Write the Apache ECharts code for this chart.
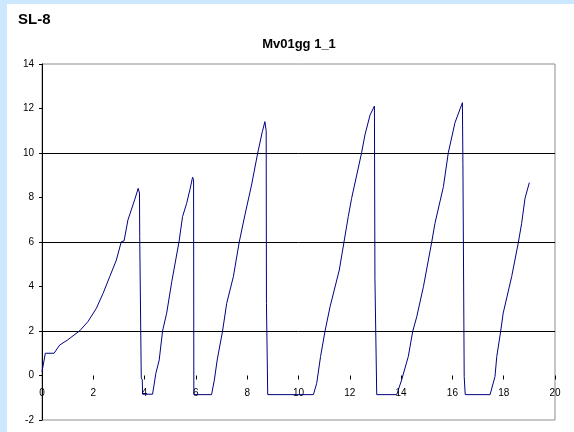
<!DOCTYPE html>
<html>
<head>
<meta charset="utf-8">
<script src="https://cdn.jsdelivr.net/npm/echarts@6/dist/echarts.min.js"></script>
<style>
html,body{margin:0;padding:0;background:#cce8ff;}
#paper{position:absolute;left:7px;top:4px;width:567px;height:428px;background:#ffffff;}
#main{position:absolute;left:0;top:0;width:574px;height:432px;}
</style>
</head>
<body>
<div id="paper"></div>
<div id="main"></div>
<script>
var chartTitle = 'Mv01gg 1_1';
var cornerLabel = 'SL-8';
var xTicks = [0, 2, 4, 6, 8, 10, 12, 14, 16, 18, 20];
var yTicks = [-2, 0, 2, 4, 6, 8, 10, 12, 14];
var gridValues = [2, 6, 10];

var xValues = [
  0.00, 0.13, 0.47, 0.69, 1.00, 1.47, 1.79, 2.12, 2.38, 2.64, 2.90, 3.09, 3.20, 3.35, 3.61, 3.75, 3.80, 3.81, 3.86, 3.87, 3.91, 3.92,
  4.31, 4.44, 4.57, 4.70, 4.86, 5.06, 5.34, 5.48, 5.64, 5.77, 5.87, 5.91, 5.92,
  6.61, 6.72, 6.83, 7.04, 7.20, 7.46, 7.69, 7.91, 8.17, 8.41, 8.59, 8.69, 8.74, 8.75, 8.79, 8.80,
  10.58, 10.71, 10.86, 11.03, 11.23, 11.59, 11.77, 11.94, 12.07, 12.27, 12.46, 12.59, 12.79, 12.96, 12.98, 13.04, 13.05,
  13.83, 14.02, 14.28, 14.45, 14.61, 14.87, 15.19, 15.32, 15.65, 15.84, 16.10, 16.39, 16.41, 16.45, 16.46, 16.49, 16.50,
  17.47, 17.57, 17.66, 17.73, 17.88, 17.98, 18.31, 18.57, 18.70, 18.83, 19.00
];
var yValues = [
  0.17, 1.00, 1.00, 1.37, 1.60, 2.01, 2.42, 3.02, 3.69, 4.44, 5.19, 6.01, 6.05, 6.99, 7.89, 8.41, 8.20, 6.24, 6.20, -0.10, -0.20, -0.84,
  -0.84, 0.10, 0.70, 2.00, 2.80, 4.22, 6.00, 7.14, 7.74, 8.37, 8.91, 8.80, -0.86,
  -0.86, -0.20, 0.70, 2.00, 3.24, 4.44, 6.00, 7.21, 8.56, 10.00, 10.96, 11.41, 11.00, 3.24, 3.20, -0.86,
  -0.86, -0.35, 0.85, 1.97, 3.09, 4.74, 5.97, 7.14, 7.96, 9.01, 10.01, 10.81, 11.71, 12.11, 4.37, 4.30, -0.86,
  -0.86, -0.20, 0.85, 1.97, 2.64, 3.99, 5.97, 6.84, 8.49, 10.01, 11.36, 12.26, 9.54, 9.50, -0.05, -0.10, -0.86,
  -0.86, -0.43, -0.05, 0.85, 1.97, 2.80, 4.44, 5.97, 6.84, 7.96, 8.67
];

var seriesData = xValues.map(function (x, i) { return [x, yValues[i]]; });

var gridTop = 64, gridBottom = 12, chartH = 432;
var plotH = chartH - gridTop - gridBottom;
var zeroOffset = -plotH * (0 - yTicks[0]) / (yTicks[yTicks.length - 1] - yTicks[0]);

var chart = echarts.init(document.getElementById('main'), null, {renderer: 'canvas'});
chart.setOption({
  animation: false,
  backgroundColor: 'transparent',
  title: [
    {
      text: cornerLabel,
      left: 13, top: 7,
      textStyle: {fontFamily: 'Liberation Sans, Arial, sans-serif', fontWeight: 'bold', fontSize: 15, color: '#000'}
    },
    {
      text: chartTitle,
      left: 294, top: 33, textAlign: 'center',
      textStyle: {fontFamily: 'Liberation Sans, Arial, sans-serif', fontWeight: 'bold', fontSize: 13, color: '#000'}
    }
  ],
  grid: {
    left: 42, right: 19, top: gridTop, bottom: gridBottom,
    outerBoundsMode: 'none', containLabel: false,
    show: true, borderColor: '#8c8c8c', borderWidth: 1, backgroundColor: 'transparent'
  },
  xAxis: {
    type: 'value',
    position: 'bottom',
    offset: zeroOffset,
    min: xTicks[0], max: xTicks[xTicks.length - 1], interval: 2,
    axisLine: {show: true, onZero: false, lineStyle: {color: 'rgba(0,0,0,0)'}},
    axisTick: {show: true, length: 4, inside: false, lineStyle: {color: '#000'}},
    axisLabel: {
      margin: 13, color: '#000', fontSize: 10,
      fontFamily: 'Liberation Sans, Arial, sans-serif',
      showMinLabel: true, showMaxLabel: true
    },
    splitLine: {show: false}
  },
  yAxis: {
    type: 'value',
    min: yTicks[0], max: yTicks[yTicks.length - 1], interval: 2,
    axisLine: {show: true, onZero: false, lineStyle: {color: '#000'}},
    axisTick: {show: true, length: 3, lineStyle: {color: '#000'}},
    axisLabel: {
      margin: 8, color: '#000', fontSize: 10,
      fontFamily: 'Liberation Sans, Arial, sans-serif'
    },
    splitLine: {show: false}
  },
  series: [{
    type: 'line',
    data: seriesData,
    showSymbol: false,
    symbol: 'none',
    lineStyle: {color: '#000080', width: 1},
    z: 3,
    markLine: {
      silent: true,
      symbol: ['none', 'none'],
      label: {show: false},
      lineStyle: {color: '#000', width: 1, type: 'solid'},
      emphasis: {disabled: true},
      data: gridValues.map(function (v) { return {yAxis: v}; }),
      z: 1
    }
  }]
});
</script>
</body>
</html>
